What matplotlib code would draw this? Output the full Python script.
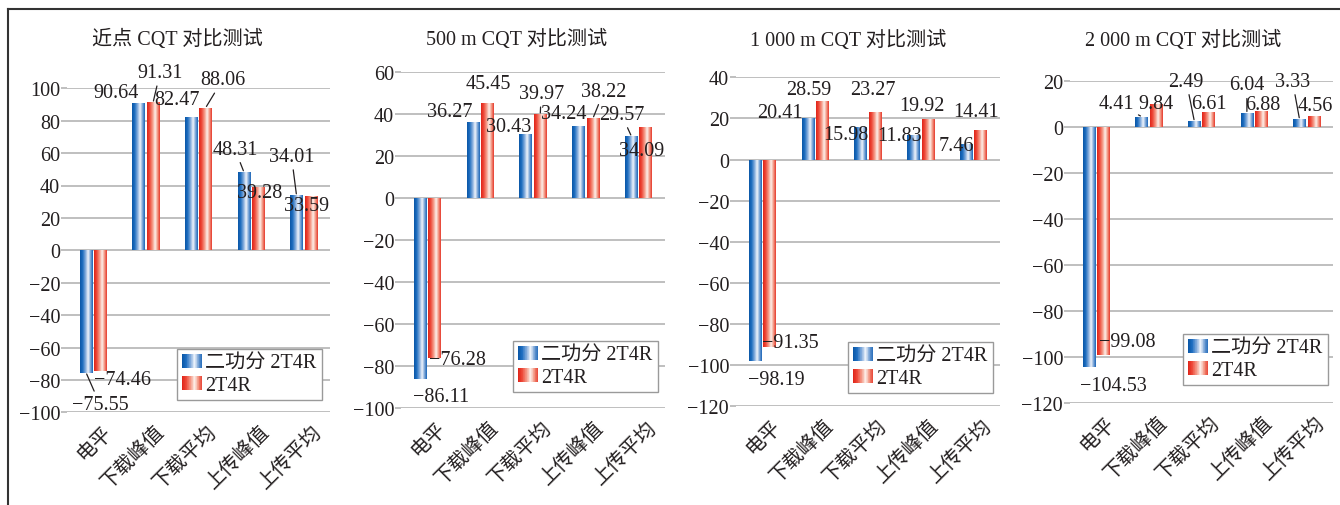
import numpy as np
import matplotlib
matplotlib.use("Agg")
import matplotlib.pyplot as plt
from matplotlib.colors import LinearSegmentedColormap
from matplotlib.legend_handler import HandlerBase
from matplotlib.patches import Rectangle
from matplotlib.lines import Line2D
from matplotlib.transforms import ScaledTranslation

plt.rcParams["font.family"] = ["Liberation Serif", "Noto Sans CJK SC"]
plt.rcParams["axes.unicode_minus"] = True

# ---------------- data ----------------
categories = ["电平", "下载峰值", "下载平均", "上传峰值", "上传平均"]
series_names = ["二功分 2T4R", "2T4R"]
panel_titles = ["近点 CQT 对比测试", "500 m CQT 对比测试",
                "1 000 m CQT 对比测试", "2 000 m CQT 对比测试"]

near_split = [-75.55, 90.64, 82.47, 48.31, 34.01]
near_2t4r = [-74.46, 91.31, 88.06, 39.28, 33.59]
m500_split = [-86.11, 36.27, 30.43, 34.24, 29.57]
m500_2t4r = [-76.28, 45.45, 39.97, 38.22, 34.09]
m1000_split = [-98.19, 20.41, 15.98, 11.83, 7.46]
m1000_2t4r = [-91.35, 28.59, 23.27, 19.92, 14.41]
m2000_split = [-104.53, 4.41, 2.49, 6.04, 3.33]
m2000_2t4r = [-99.08, 9.84, 6.61, 6.88, 4.56]

panel_data = [(near_split, near_2t4r), (m500_split, m500_2t4r),
              (m1000_split, m1000_2t4r), (m2000_split, m2000_2t4r)]

# ---------------- layout ----------------
W, H = 1340, 506
axes_px = [(67, 330, 89.3, 413.3), (401, 665, 73.3, 409.3),
           (736, 1000, 78.3, 407.3), (1070, 1333, 81.7, 404.0)]
ylims = [(-100, 100), (-100, 60), (-120, 40), (-120, 20)]
title_px = [(177, 40), (517, 40), (848, 41), (1183, 41)]
legend_px = [(177, 350), (513, 342), (848, 343), (1183, 335)]

# value-label offsets from the bar end, in pixels (dx, dy up); and leader flags
label_offsets = [
    ([(14, -32), (-23, 11), (-14, 17), (-9, 23), (-5, 39)],
     [(22, -9), (7, 30), (17, 28), (1, -6), (-4, -10)]),
    ([(21, -17), (-23, 11), (-17, 8), (-15, 13), (-10, 22)],
     [(23, -1), (1, 19), (1, 21), (11, 27), (-4, -24)]),
    ([(21, -18), (-28, 5), (-15, -8), (-14, 0), (-10, -1)],
     [(21, 5), (-14, 11), (-2, 22), (-6, 13), (-5, 18)]),
    ([(24, -18), (-25, 13), (-8, 40), (0, 28), (-7, 38)],
     [(24, 13), (0, 1), (0, 8), (1, 6), (1, 11)]),
]
leaders = [
    ([True, False, False, True, True], [False, True, True, False, False]),
    ([False, False, False, False, True], [False, False, True, True, False]),
    ([False, False, False, False, False], [False, False, False, False, False]),
    ([False, True, True, True, True], [False, False, False, False, False]),
]

text_color = "#231f20"
grid_color = "#b4b4b4"
fs = 14.5

blue_cmap = LinearSegmentedColormap.from_list(
    "cyl_blue", [(0, "#0a56a6"), (0.2, "#1c6cbf"), (0.45, "#8db2df"),
                 (0.63, "#f2f6fc"), (0.82, "#78a3d6"), (1, "#1864b6")])
red_cmap = LinearSegmentedColormap.from_list(
    "cyl_red", [(0, "#de2419"), (0.2, "#ee4636"), (0.45, "#f5a18f"),
                (0.63, "#fdf1ec"), (0.82, "#f29480"), (1, "#e6372a")])
cmaps = [blue_cmap, red_cmap]
grad = np.linspace(0, 1, 256).reshape(1, -1)


class GradientHandler(HandlerBase):
    def __init__(self, cmap, n=30):
        super().__init__()
        self.cmap = cmap
        self.n = n

    def create_artists(self, legend, orig_handle, xdescent, ydescent,
                       width, height, fontsize, trans):
        arts = []
        w = width / self.n
        for i in range(self.n):
            arts.append(Rectangle((-xdescent + i * w, -ydescent), w * 1.08, height,
                                  facecolor=self.cmap((i + 0.5) / self.n),
                                  edgecolor="none", transform=trans))
        return arts


def fmt(v):
    return f"{v:.2f}".replace("-", "\u2212")


fig = plt.figure(figsize=(W / 100, H / 100), dpi=100)
x = np.arange(len(categories))
bw = 0.24
offs = [-0.137, 0.137]

for p in range(4):
    x0, x1, yt, yb = axes_px[p]
    ax = fig.add_axes([x0 / W, 1 - yb / H, (x1 - x0) / W, (yb - yt) / H])
    for s in range(2):
        vals = panel_data[p][s]
        bars = ax.bar(x + offs[s], vals, width=bw, facecolor="none",
                      edgecolor="none", zorder=2)
        for i, rect in enumerate(bars):
            bx, by = rect.get_xy()
            bwid, bh = rect.get_width(), rect.get_height()
            im = ax.imshow(grad, cmap=cmaps[s], aspect="auto",
                           extent=[bx, bx + bwid, min(by, by + bh), max(by, by + bh)],
                           interpolation="bilinear", zorder=2)
            im.set_clip_path(rect)
            v = vals[i]
            dx, dy = label_offsets[p][s][i]
            kw = {}
            if leaders[p][s][i]:
                kw["arrowprops"] = dict(arrowstyle="-", color=text_color, lw=0.9,
                                        shrinkA=1, shrinkB=1)
            ax.annotate(fmt(v), xy=(bx + bwid / 2, v), xytext=(dx, dy),
                        textcoords="offset pixels", ha="center", va="center",
                        fontsize=fs, color=text_color, zorder=5, **kw)

    ax.set_xlim(-0.5, len(categories) - 0.5)
    ax.set_ylim(*ylims[p])
    ax.set_yticks(np.arange(ylims[p][0], ylims[p][1] + 1, 20))
    ax.yaxis.grid(True, color=grid_color, lw=1.2)
    ax.set_axisbelow(True)
    for sp in ax.spines.values():
        sp.set_visible(False)
    ax.tick_params(axis="y", length=4, color=grid_color, width=1.2, pad=1,
                   labelsize=fs, labelcolor=text_color)
    ax.tick_params(axis="x", length=0, pad=7, labelsize=fs, labelcolor=text_color)
    ax.set_xticks(x)
    ax.set_xticklabels(categories, rotation=45, ha="right", va="top",
                       rotation_mode="anchor")
    shift = ScaledTranslation(9 / 100, 0, fig.dpi_scale_trans)
    for lab in ax.get_xticklabels():
        lab.set_transform(lab.get_transform() + shift)

    tx, ty = title_px[p]
    fig.text(tx / W, 1 - ty / H, panel_titles[p], ha="center", va="center",
             fontsize=fs, color=text_color)

    proxies = [Rectangle((0, 0), 1, 1), Rectangle((0, 0), 1, 1)]
    lx, ly = legend_px[p]
    leg = ax.legend(proxies, series_names, loc="upper left",
                    bbox_to_anchor=(lx / W, 1 - ly / H), bbox_transform=fig.transFigure,
                    handler_map={proxies[0]: GradientHandler(blue_cmap),
                                 proxies[1]: GradientHandler(red_cmap)},
                    fontsize=fs, frameon=True, fancybox=False, framealpha=1,
                    edgecolor="#9a9a9a", borderpad=0.25, labelspacing=0.12,
                    handlelength=1.0, handleheight=0.7, handletextpad=0.15,
                    borderaxespad=0)
    leg.get_frame().set_linewidth(1.0)
    for t in leg.get_texts():
        t.set_color(text_color)

# outer frame: top and left rules
fig.add_artist(Line2D([8 / W, 1], [1 - 10 / H, 1 - 10 / H], transform=fig.transFigure,
                      color="#333333", lw=1.5))
fig.add_artist(Line2D([8 / W, 8 / W], [0, 1 - 10 / H], transform=fig.transFigure,
                      color="#333333", lw=1.5))

fig.savefig("out.png", dpi=100)
